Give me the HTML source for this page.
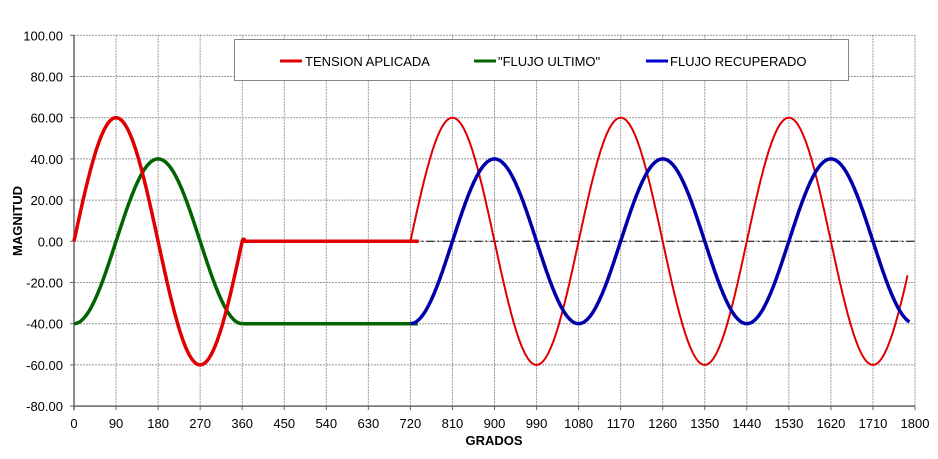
<!DOCTYPE html>
<html><head><meta charset="utf-8"><style>
html,body{margin:0;padding:0;background:#fff;}
svg text{font-family:"Liberation Sans",Arial,sans-serif;}
</style></head><body>
<svg id="s" width="938" height="454" xmlns="http://www.w3.org/2000/svg">
<g id="grid" stroke="#999" stroke-width="1" stroke-dasharray="2,1"></g>
<g id="axes"></g>
<g id="series"></g>
<rect x="234.5" y="39.5" width="614" height="41" fill="#fff" stroke="#888" stroke-width="1"/>
<line x1="280" y1="61" x2="302" y2="61" stroke="#e00000" stroke-width="3"/>
<text x="305" y="66" font-size="13">TENSION APLICADA</text>
<line x1="474" y1="61" x2="496" y2="61" stroke="#006400" stroke-width="3"/>
<text x="498" y="66" font-size="13">"FLUJO ULTIMO"</text>
<line x1="646" y1="61" x2="668" y2="61" stroke="#0000cc" stroke-width="3"/>
<text x="670" y="66" font-size="13">FLUJO RECUPERADO</text>
<text x="494" y="445" font-size="13" font-weight="bold" text-anchor="middle">GRADOS</text>
<text transform="translate(22,221) rotate(-90)" font-size="13" font-weight="bold" text-anchor="middle">MAGNITUD</text>
</svg>
<script>
const NS="http://www.w3.org/2000/svg";
const X=d=>74+d*841/1800, Y=v=>241.3-v*2.06;
function el(p,t,a){const e=document.createElementNS(NS,t);for(const k in a)e.setAttribute(k,a[k]);p.appendChild(e);return e;}
const g=document.getElementById('grid'),ax=document.getElementById('axes'),se=document.getElementById('series');
for(let d=90;d<=1800;d+=90)el(g,'line',{x1:X(d),y1:Y(100),x2:X(d),y2:Y(-80)});
for(let v=-60;v<=100;v+=20)el(g,'line',{x1:X(0),y1:Y(v),x2:X(1800),y2:Y(v)});
el(ax,'line',{x1:X(0),y1:Y(100),x2:X(0),y2:Y(-80)+4,stroke:'#666','stroke-width':1.5});
el(ax,'line',{x1:X(0),y1:Y(-80),x2:X(1800),y2:Y(-80),stroke:'#666','stroke-width':1.5});
for(let v=-80;v<=100;v+=20){el(ax,'line',{x1:X(0)-4,y1:Y(v),x2:X(0),y2:Y(v),stroke:'#666'});
 const t=el(ax,'text',{x:63,y:Y(v)+5,'font-size':13,'text-anchor':'end'});t.textContent=v.toFixed(2);}
for(let d=0;d<=1800;d+=90){el(ax,'line',{x1:X(d),y1:Y(-80),x2:X(d),y2:Y(-80)+4,stroke:'#666'});
 const t=el(ax,'text',{x:X(d),y:428,'font-size':13,'text-anchor':'middle'});t.textContent=d;}
const r=Math.PI/180;
function pl(f,a,b,col,w,dash){let p=[];for(let d=a;d<=b+1e-9;d+=2)p.push(X(d).toFixed(1)+','+Y(f(d)).toFixed(1));
 const o={points:p.join(' '),fill:'none',stroke:col,'stroke-width':w,'stroke-linejoin':'round'};if(dash)o['stroke-dasharray']=dash;el(se,'polyline',o);}
pl(d=>0,720,1800,'#000',1,'8,3,2,3');
pl(d=>-40*Math.cos(d*r),0,360,'#006400',3.5);
pl(d=>-40,360,736,'#006400',3.5);
pl(d=>d<=360?60*Math.sin(d*r):(d<366?1:0),0,738,'#e00000',3.5);
pl(d=>60*Math.sin(d*r),720,1784,'#e00000',2);
pl(d=>-40*Math.cos(d*r),720,1788,'#0000aa',3.5);
</script>
</body></html>
